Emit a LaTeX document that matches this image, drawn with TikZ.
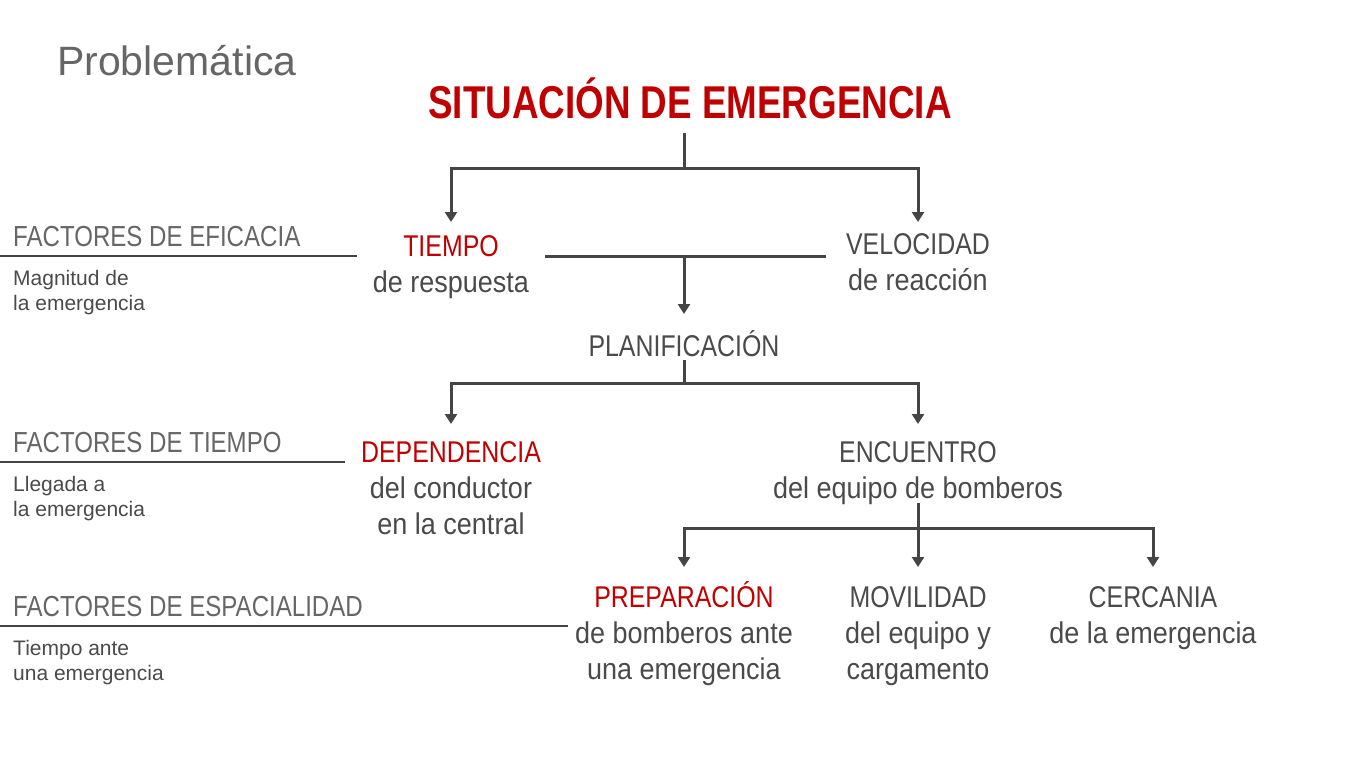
\documentclass[tikz,border=0pt]{standalone}
\usepackage{fontspec}
\setmainfont{Liberation Sans}[FakeStretch=0.90]
\newfontfamily\titlefont{Liberation Sans}[FakeStretch=0.80]
\newfontfamily\factorfont{Liberation Sans}[FakeStretch=0.83]
\newfontfamily\capsfont{Liberation Sans}[FakeStretch=0.83]
\newfontfamily\smallfont{Liberation Sans}
\usetikzlibrary{
    arrows.meta,
    positioning,
    calc
}
\definecolor{emred}{HTML}{C00000}
\definecolor{ink}{HTML}{4A4A4A}
\definecolor{wire}{HTML}{454545}
\definecolor{soft}{HTML}{666666}
\tikzset{
    % --- Tree item (red keyword, grey explanation), base = last line ---
    item/.style = {
        anchor=base, align=center, inner sep=0pt,
        text=ink, font=\fontsize{30}{36}\selectfont
    },
    % --- Main title ---
    headline/.style = {
        anchor=base, inner sep=0pt, text=emred,
        font=\titlefont\fontsize{46}{50}\selectfont\bfseries
    },
    % --- Side factor heading ---
    factor/.style = {
        anchor=base west, inner sep=0pt, text=soft,
        font=\factorfont\fontsize{29}{34}\selectfont
    },
    % --- Side factor note ---
    note/.style = {
        anchor=base west, inner sep=0pt, align=left, text=ink,
        font=\smallfont\fontsize{21}{25}\selectfont
    },
    % --- Plain tree wire ---
    wire/.style = {
        draw=wire, line width=3pt
    },
    % --- Tree wire with arrow ---
    branch/.style = {
        wire, -{Triangle[width=12pt,length=10pt]}
    },
    % --- Underline of a side factor ---
    rule/.style = {
        draw=wire, line width=2pt
    }
}
\newcommand{\kw}[1]{{\capsfont #1}}
\newcommand{\key}[1]{{\color{emred}\capsfont #1}}

\begin{document}
\begin{tikzpicture}[x=1pt, y=-1pt]
\useasboundingbox (0,0) rectangle (1366,768);

% ---------------------------------------------------------
% Titles
% ---------------------------------------------------------
\node[anchor=base west, inner sep=0pt, text=soft,
      font=\smallfont\fontsize{41}{46}\selectfont] (topic) at (57,75) {Problemática};
\node[headline] (sit) at (690,118) {SITUACIÓN DE EMERGENCIA};

% ---------------------------------------------------------
% Tree items (placed at the baseline of their last line)
% ---------------------------------------------------------
\node[item] (tiempo) at (451,292) {\key{TIEMPO}\\de respuesta};
\node[item] (veloc) at (918,290) {\kw{VELOCIDAD}\\de reacción};
\node[item] (plan) at (684,356) {\kw{PLANIFICACIÓN}};
\node[item] (depend) at (451,534) {\key{DEPENDENCIA}\\del conductor\\en la central};
\node[item] (encuentro) at (918,498) {\kw{ENCUENTRO}\\del equipo de bomberos};
\node[item] (prep) at (684,679) {\key{PREPARACIÓN}\\de bomberos ante\\una emergencia};
\node[item] (movil) at (918,679) {\kw{MOVILIDAD}\\del equipo y\\cargamento};
\node[item] (cerca) at (1153,643) {\kw{CERCANIA}\\de la emergencia};

% ---------------------------------------------------------
% Junctions
% ---------------------------------------------------------
\coordinate (j1) at (684,168);
\coordinate (j2) at (684,256);
\coordinate (j3) at (684,383);
\coordinate (j4) at (918,528);
\coordinate (hl) at (545,256);
\coordinate (hr) at (826,256);

% ---------------------------------------------------------
% Connectors
% ---------------------------------------------------------
\draw[wire] (j1 |- sit.base) ++(0,15) -- (j1);
\draw[branch] (j1) -| ([yshift=70pt]tiempo.base);
\draw[branch] (j1) -| ([yshift=68pt]veloc.base);

\draw[wire] (hl) -- (hr);
\draw[branch] (j2) -- ([yshift=42pt]plan.base);

\draw[wire] ([yshift=-4pt]plan.base) -- (j3);
\draw[branch] (j3) -| ([yshift=110pt]depend.base);
\draw[branch] (j3) -| ([yshift=74pt]encuentro.base);

\draw[wire] ([yshift=-5pt]encuentro.base) -- (j4);
\draw[branch] (j4) -- ([yshift=112pt]movil.base);
\draw[branch] (j4) -| ([yshift=112pt]prep.base);
\draw[branch] (j4) -| ([yshift=76pt]cerca.base);

% ---------------------------------------------------------
% Side factors
% ---------------------------------------------------------
\foreach \name/\y/\len/\title/\first/\second in {
    eficacia/246/357/FACTORES DE EFICACIA/Magnitud de/la emergencia,
    tiempof/452/345/FACTORES DE TIEMPO/Llegada a/la emergencia,
    espacio/616/568/FACTORES DE ESPACIALIDAD/Tiempo ante/una emergencia} {
    \node[factor] (\name) at (13,\y) {\title};
    \draw[rule] (0,\y+10) -- (\len,\y+10);
    \node[note] (\name note) at (13,\y+64) {\first\\\second};
}

\end{tikzpicture}
\end{document}
